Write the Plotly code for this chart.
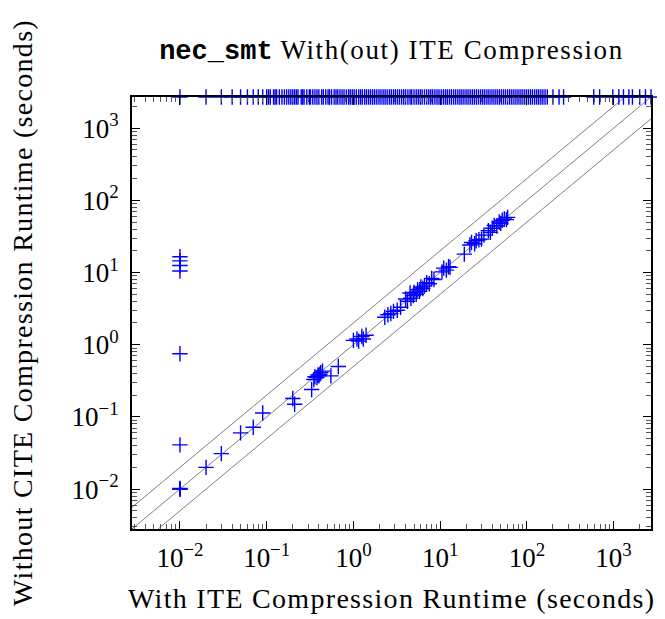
import math
import plotly.graph_objects as go

# ---------------- data ----------------
T_MAX = 2700.0     # timeout value (axis maximum)
AX_MIN = 0.0028    # axis minimum

# instances solved by both configurations
diag_x = [0.01, 0.01, 0.01, 0.02, 0.03, 0.05, 0.07, 0.09, 0.2, 0.21, 0.33,
          0.35, 0.36, 0.38, 0.39, 0.40, 0.42, 0.44, 0.41, 0.55, 0.67,
          1.0, 1.1, 1.15, 1.25, 1.3, 1.4,
          2.3, 2.5, 2.7, 2.9, 3.2, 3.5,
          4.0, 4.2, 4.5, 4.6, 4.9, 5.0, 5.3, 5.5, 5.8, 6.0, 6.3, 6.6, 7.0, 7.5, 8.0, 8.5,
          10.5, 11.0, 11.8, 12.5, 13.0,
          19.0, 22.0, 23.0, 25.0, 26.0, 28.0, 30.0, 32.0,
          36.0, 38.0, 40.0, 42.0, 45.0, 48.0, 50.0, 52.0, 55.0, 58.0, 60.0]
diag_y = [0.01, 0.01, 0.0102, 0.02, 0.031, 0.06, 0.072, 0.113, 0.18, 0.15, 0.24,
          0.33, 0.36, 0.35, 0.38, 0.37, 0.41, 0.43, 0.39, 0.37, 0.50,
          1.15, 1.2, 1.12, 1.3, 1.2, 1.35,
          2.4, 2.6, 2.7, 2.9, 3.0, 3.3,
          4.3, 4.0, 5.2, 4.4, 4.8, 5.3, 5.0, 5.8, 5.5, 6.3, 6.0, 6.5, 7.2, 7.0, 8.3, 8.0,
          10.2, 11.5, 10.8, 12.0, 11.8,
          18.0, 24.0, 26.0, 25.0, 27.5, 28.5, 29.0, 33.0,
          38.0, 36.0, 41.0, 45.0, 44.0, 50.0, 48.0, 53.0, 55.0, 54.0, 58.0]

# instances fast with compression, slow without (left column)
left_x = [0.01, 0.01, 0.01, 0.01, 0.01, 0.01]
left_y = [16.5, 14.5, 12.5, 10.5, 0.75, 0.041]

# instances that time out without compression (top row)
top_x = [0.01, 0.02, 0.03, 0.04, 0.05, 0.06, 0.07, 0.08, 0.09, 0.10, 0.105,
         0.11, 0.12, 0.125, 0.13, 0.14, 0.15, 0.16, 0.17, 0.18, 0.19, 0.2,
         0.21, 0.22, 0.23, 0.25, 0.26, 0.27, 0.29, 0.31, 0.32, 0.34, 0.36,
         0.38, 0.40, 0.43, 0.45, 0.48, 0.51, 0.53, 0.56, 0.6, 0.63, 0.66,
         0.7, 0.74, 0.78, 0.83, 0.88, 0.92, 0.97, 1.02, 1.08, 1.15, 1.21,
         1.27, 1.35, 1.42, 1.5, 1.58, 1.67, 1.76, 1.86, 1.97, 2.08, 2.2,
         2.32, 2.45, 2.6, 2.74, 2.9, 3.05, 3.22, 3.4, 3.6, 3.8, 4.0, 4.25,
         4.5, 4.7, 5.0, 5.3, 5.6, 5.9, 6.2, 6.6, 7.0, 7.4, 7.8, 8.2, 8.7,
         9.2, 9.7, 10.3, 10.9, 11.5, 12.1, 12.8, 13.5, 14.3, 15.1, 16.0,
         16.9, 17.8, 18.8, 19.9, 21.0, 22.2, 23.5, 24.8, 26.2, 27.7, 29.3,
         31.0, 32.7, 34.6, 36.5, 38.6, 40.8, 43.1, 45.5, 48.1, 50.8, 53.7,
         56.7, 60.0, 63.4, 67.0, 70.8, 74.8, 79.0, 83.5, 88.2, 93.2, 98.5,
         104, 110, 116, 123, 130, 137, 145, 153, 162, 172, 200, 235,
         265, 590, 690, 980, 1150, 1300, 1500, 1650, 2000, 2330, 2700]
top_y = [T_MAX] * len(top_x)

# tick labels
tick_vals = [0.01, 0.1, 1, 10, 100, 1000]
tick_text = ["10<sup>−2</sup>", "10<sup>−1</sup>", "10<sup>0</sup>",
             "10<sup>1</sup>", "10<sup>2</sup>", "10<sup>3</sup>"]
minor_decades = [0.001, 0.01, 0.1, 1, 10, 100, 1000]
minor_mults = [2, 3, 4, 5, 6, 7, 8, 9]
ref_factors = [0.5, 1.0, 2.0]

# ---------------- figure ----------------
SERIF = "Liberation Serif"
MONO = "Liberation Mono"
BLUE = "#0000ff"
SP = "letter-spacing:1.3px"

fig = go.Figure()

# reference lines y = f * x
for f in ref_factors:
    lx = [AX_MIN / 4, T_MAX * 4]
    fig.add_trace(go.Scatter(x=lx, y=[v * f for v in lx], mode="lines",
                             line=dict(color="#808080", width=1),
                             hoverinfo="skip", showlegend=False))

all_x = diag_x + left_x + top_x
all_y = diag_y + left_y + top_y
fig.add_trace(go.Scatter(
    x=all_x, y=all_y, mode="markers", cliponaxis=False, showlegend=False,
    marker=dict(symbol="cross-thin", size=11, color=BLUE,
                line=dict(color=BLUE, width=1.4))))

minor_vals = [d * m for d in minor_decades for m in minor_mults]
rng = [math.log10(AX_MIN), math.log10(T_MAX)]
axis_common = dict(
    type="log", range=rng, tickmode="array", tickvals=tick_vals, ticktext=tick_text,
    ticks="inside", ticklen=8, tickwidth=1.2, tickcolor="black",
    showline=True, linecolor="black", linewidth=2, mirror="allticks",
    showgrid=False, zeroline=False,
    tickfont=dict(family=SERIF, size=27, color="black"),
    minor=dict(ticks="inside", ticklen=5, tickwidth=1, tickcolor="#555",
               tickmode="array", tickvals=minor_vals, showgrid=False),
)
fig.update_xaxes(ticklabelstandoff=4, **axis_common)
fig.update_yaxes(ticklabelstandoff=6, **axis_common)

# page body has an 8px margin: figure is drawn at (8, 8)
W, H = 657, 611
fig.update_layout(
    width=W, height=H,
    margin=dict(l=124, r=14, t=89, b=90),
    paper_bgcolor="white", plot_bgcolor="white",
    title=dict(
        text=(f"<span style='font-family:{MONO}; font-weight:bold'>nec_smt</span>"
              f"<span style='letter-spacing:1.6px'> With(out) ITE Compression</span>"),
        font=dict(family=SERIF, size=27, color="black"),
        x=0.5, xref="paper", xanchor="center",
        y=1 - 42 / H, yanchor="middle", yref="container"),
    annotations=[
        dict(text=f"<span style='{SP}'>With ITE Compression Runtime (seconds)</span>",
             xref="paper", yref="paper",
             x=0.5, y=0, yshift=-69, xanchor="center", yanchor="middle",
             showarrow=False, font=dict(family=SERIF, size=28, color="black")),
        dict(text=f"<span style='{SP}'>Without CITE Compression Runtime (seconds)</span>",
             xref="paper", yref="paper",
             x=0, y=0.5, xshift=-110, xanchor="center", yanchor="middle",
             textangle=-90, showarrow=False,
             font=dict(family=SERIF, size=28, color="black")),
    ],
)

fig.write_html("out.html")
